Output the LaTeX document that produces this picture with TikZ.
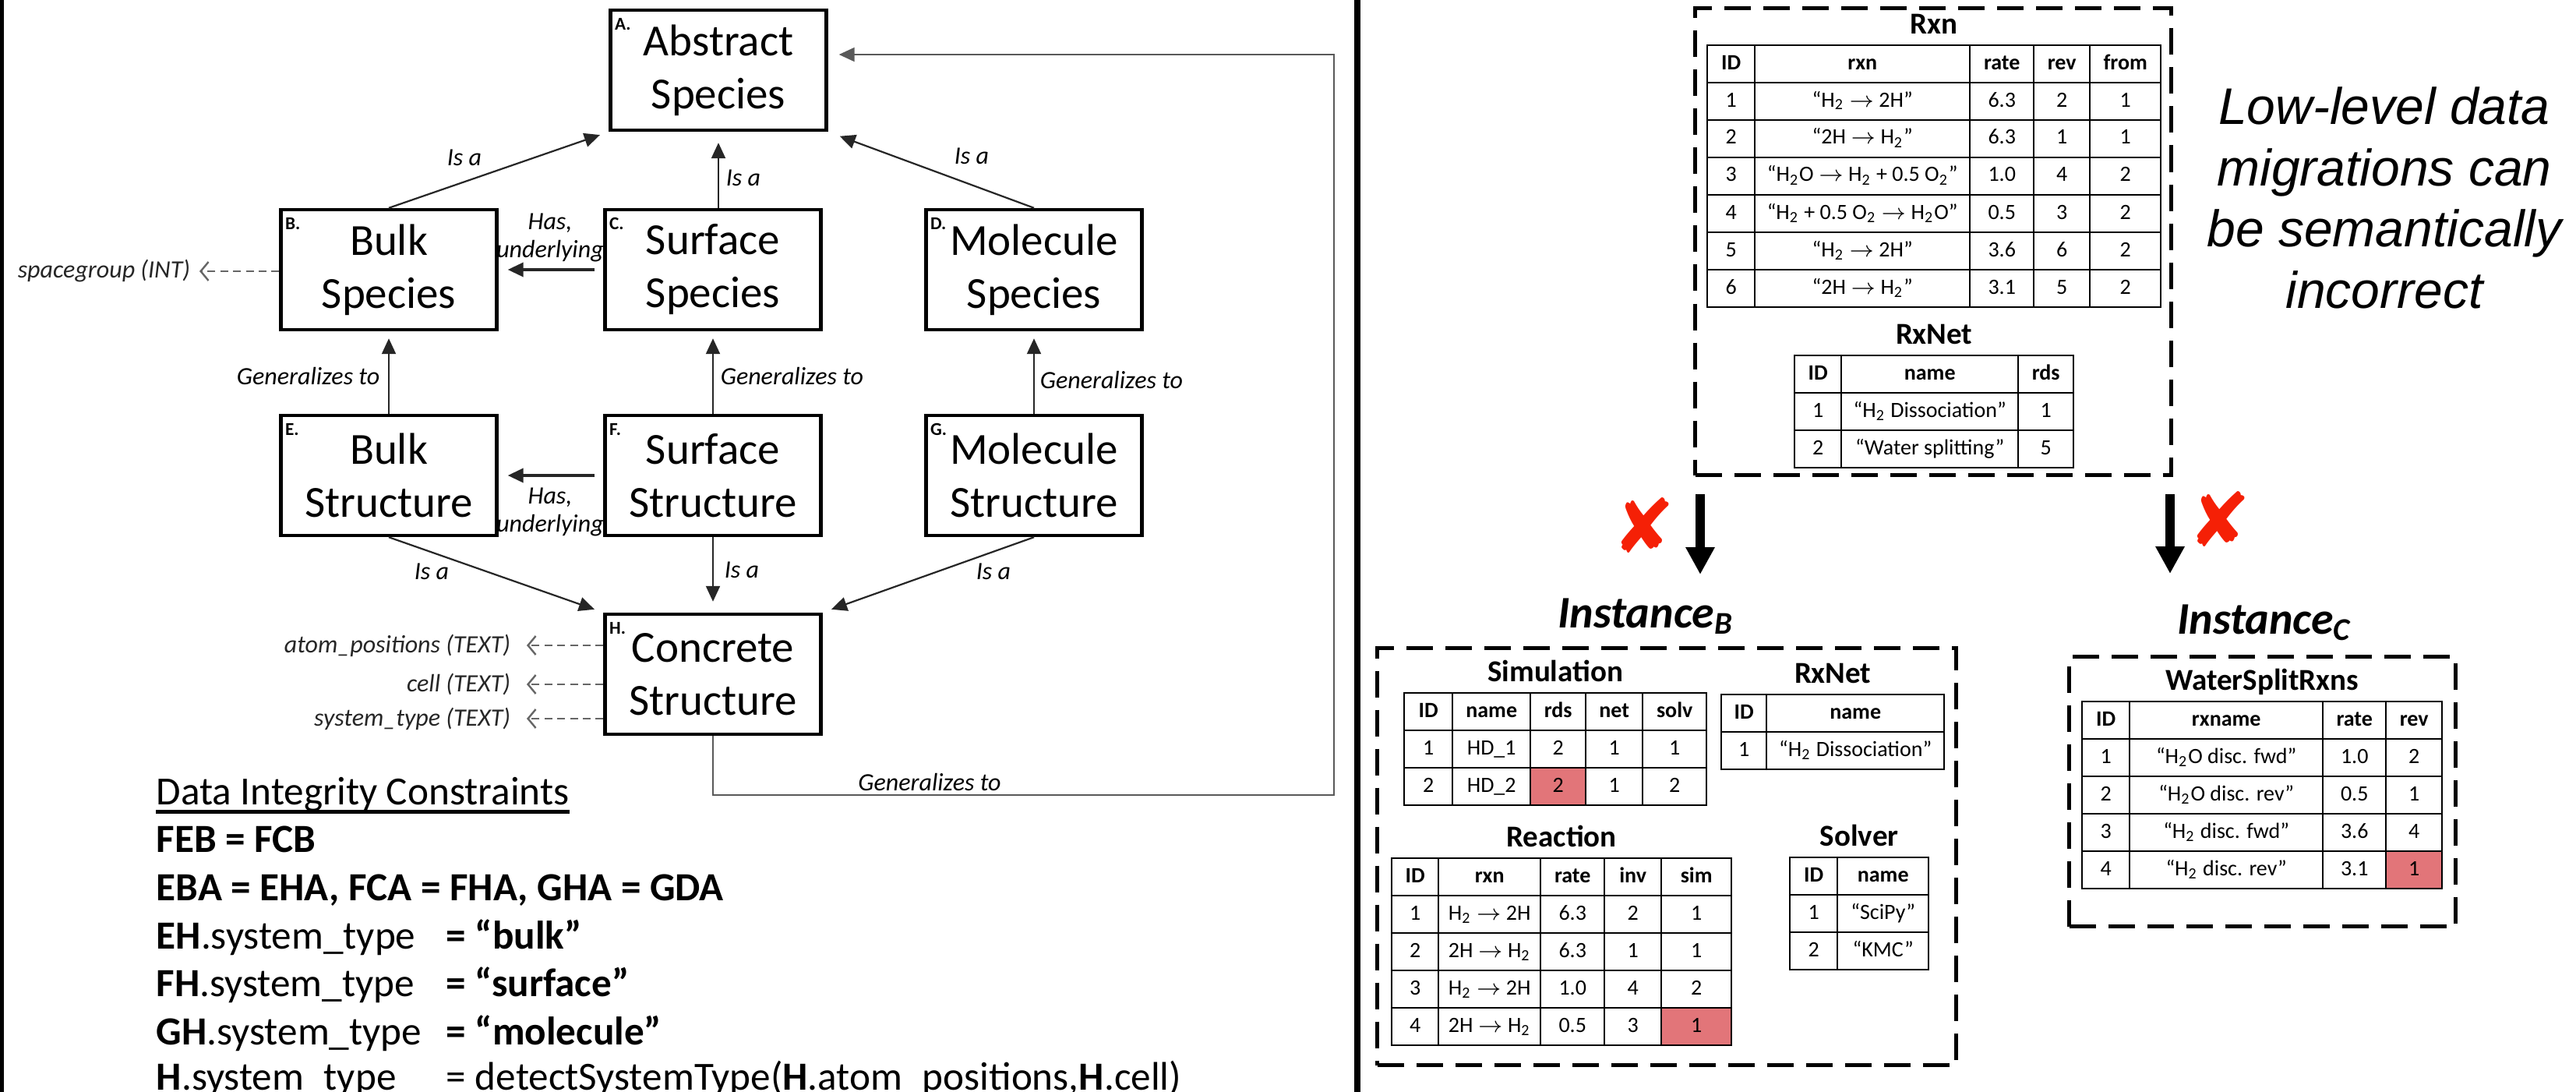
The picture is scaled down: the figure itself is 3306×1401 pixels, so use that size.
\documentclass[tikz,border=0pt]{standalone}
\usepackage{fontspec}
\setmainfont{Carlito}
\newfontfamily\lowfont{Liberation Sans}
\newfontfamily\symfont{DejaVu Sans}
\usetikzlibrary{arrows.meta,positioning,matrix}
\newcommand{\Htwo}{H\textsubscript{2}}
\newcommand{\Otwo}{O\textsubscript{2}}
\newcommand{\rarr}{\ensuremath{\rightarrow}}
\newcommand{\tbfont}{\fontsize{7}{8.4}\selectfont}
\newcommand{\dicfont}{\fontsize{12.8}{15.4}\selectfont}
\definecolor{bad}{RGB}{226,117,121}
\definecolor{xred}{RGB}{245,32,6}
\tikzset{
  ent/.style={draw,line width=1.1pt,minimum width=69.25pt,minimum height=38.5pt,
              align=center,inner sep=0pt,font=\fontsize{14.25}{17}\selectfont},
  tag/.style={font=\fontsize{5.8}{6}\selectfont\bfseries,inner sep=0pt,anchor=north west},
  lbl/.style={font=\fontsize{8}{9}\selectfont\itshape,align=center,inner sep=0pt},
  isa/.style={-{Triangle[length=5pt,width=4.5pt]},line width=0.55pt,black!85},
  has/.style={isa,line width=0.9pt,shorten <=2.75pt,shorten >=3pt},
  gen/.style={isa,black!65,line width=0.5pt},
  attr/.style={-{Straight Barb[length=2.5pt,width=6pt]},dash pattern=on 2.5pt off 1.6pt,
               line width=0.6pt,black!60},
  attrtxt/.style={lbl,black!85},
  rule/.style={anchor=base west,inner sep=0pt,font=\dicfont},
}
\tikzset{
  cw/.style 2 args={column #1/.style={nodes={minimum width=#2}}},
  tbl/.style={matrix of nodes,anchor=north west,inner sep=0pt,outer sep=0pt,
              column sep=-0.6pt,row sep=-0.6pt,
              nodes={draw,line width=0.6pt,minimum height=12pt,inner sep=0pt,outer sep=0pt,
                     anchor=center,font=\tbfont,text height=5pt,text depth=1.6pt},
              row 1/.style={nodes={font=\tbfont\bfseries}}},
  ttl/.style={font=\fontsize{9.75}{11}\selectfont\bfseries,inner sep=0pt,text depth=0pt},
  grp/.style={draw,line width=1.25pt,dash pattern=on 8.5pt off 4pt,inner sep=0pt,
              anchor=north west},
  inst/.style={font=\fontsize{14.5}{16}\selectfont\bfseries\itshape,inner sep=0pt,anchor=base},
  mig/.style={-{Triangle[length=8.75pt,width=8.8pt]},line width=3pt,shorten <=5.5pt},
  nogo/.style={font=\symfont\fontsize{24}{24}\selectfont,text=xred,inner sep=0pt},
}

\begin{document}
\begin{tikzpicture}[x=0.25pt, y=-0.25pt]
\useasboundingbox (0,0) rectangle (3306,1401);
\fill[white] (0,0) rectangle (3306,1401);
\draw[line width=1.25pt] (2.5,0) -- (2.5,1401);
\draw[line width=2pt] (1742,0) -- (1742,1401);

% schema
\node[ent] (A) at (922,90) {Abstract\\Species};
\node[ent] (B) at (499,346) {Bulk\\Species};
\node[ent] (C) at (915,346) {Surface\\Species};
\node[ent] (D) at (1327,346) {Molecule\\Species};
\node[ent] (E) at (499,610) {Bulk\\Structure};
\node[ent] (F) at (915,610) {Surface\\Structure};
\node[ent] (G) at (1327,610) {Molecule\\Structure};
\node[ent] (H) at (915,865) {Concrete\\Structure};
\node[tag] (tA) at ([xshift=1.75pt,yshift=-3pt]A.north west) {A.};
\node[tag] (tB) at ([xshift=1.75pt,yshift=-3pt]B.north west) {B.};
\node[tag] (tC) at ([xshift=1.75pt,yshift=-3pt]C.north west) {C.};
\node[tag] (tD) at ([xshift=1.75pt,yshift=-3pt]D.north west) {D.};
\node[tag] (tE) at ([xshift=1.75pt,yshift=-3pt]E.north west) {E.};
\node[tag] (tF) at ([xshift=1.75pt,yshift=-3pt]F.north west) {F.};
\node[tag] (tG) at ([xshift=1.75pt,yshift=-3pt]G.north west) {G.};
\node[tag] (tH) at ([xshift=1.75pt,yshift=-3pt]H.north west) {H.};

\node[lbl] (lBA) at (596,202) {Is a};
\node[lbl, anchor=west] (lCA) at (931,228) {Is a};
\node[lbl] (lDA) at (1247,200) {Is a};
\node[lbl] (lCB) at (706,305) {Has,\\underlying};
\node[lbl, anchor=east] (lEB) at (488,483) {Generalizes to};
\node[lbl, anchor=west] (lFC) at (924,483) {Generalizes to};
\node[lbl, anchor=west] (lGD) at (1334,488) {Generalizes to};
\node[lbl] (lFE) at (706,657) {Has,\\underlying};
\node[lbl] (lEH) at (554,733) {Is a};
\node[lbl, anchor=west] (lFH) at (929,731) {Is a};
\node[lbl] (lGH) at (1275,733) {Is a};
\node[lbl] (lHA) at (1193,1003) {Generalizes to};

\node[attrtxt, anchor=east] (sg) at (245,348) {spacegroup (INT)};
\node[attrtxt, anchor=east] (apos) at (656,828) {atom\_positions (TEXT)};
\node[attrtxt, anchor=east] (cell) at (656,878) {cell (TEXT)};
\node[attrtxt, anchor=east] (stype) at (656,922) {system\_type (TEXT)};

\draw[isa, shorten >=3pt] (B.north) -- (A.south west);
\draw[isa, shorten >=3.5pt] (A.south |- C.north) -- (A.south);
\draw[isa, shorten >=4pt] (D.north) -- (A.south east);
\draw[has] (C.west) -- (B.east);
\draw[has] (F.west) -- (E.east);
\draw[isa, shorten >=2.25pt] (E.north) -- (B.south);
\draw[isa, shorten >=2.25pt] (F.north) -- (C.south);
\draw[isa, shorten >=2.25pt] (G.north) -- (D.south);
\draw[isa, shorten >=3pt] (E.south) -- (H.north west);
\draw[isa, shorten >=3.5pt] (F.south) -- (H.north);
\draw[isa, shorten >=3pt] (G.south) -- (H.north east);
\coordinate (loopc) at (1712,1020);
\draw[gen, shorten >=3.5pt] (H.south) |- (loopc) |- ([yshift=5pt]A.east);
\draw[attr, shorten >=2.75pt] (sg -| B.west) -- (sg);
\draw[attr, shorten >=5pt] (apos -| H.west) -- (apos);
\draw[attr, shorten >=5pt] (cell -| H.west) -- (cell);
\draw[attr, shorten >=5pt] (stype -| H.west) -- (stype);

% constraints
\node[rule] (dic) at (200,1032) {Data Integrity Constraints};
\draw[line width=1.4pt] ([yshift=-2.4pt]dic.base west) -- ([yshift=-2.4pt]dic.base east);
\node[rule] (r1) at (200,1093) {\textbf{FEB = FCB}};
\node[rule] (r2) at (200,1155) {\textbf{EBA = EHA, FCA = FHA, GHA = GDA}};
\node[rule] (r3) at (200,1217) {\makebox[93pt][l]{\textbf{EH}.system\_type}\textbf{= “bulk”}};
\node[rule] (r4) at (200,1278) {\makebox[93pt][l]{\textbf{FH}.system\_type}\textbf{= “surface”}};
\node[rule] (r5) at (200,1340) {\makebox[93pt][l]{\textbf{GH}.system\_type}\textbf{= “molecule”}};
\node[rule] (r6) at (200,1398) {\makebox[93pt][l]{\textbf{H}.system\_type}= detectSystemType(\textbf{H}.atom\_positions,\textbf{H}.cell)};

% source instance
\node[grp, minimum width=152.75pt, minimum height=149.75pt] (srcdb) at (2173,8) {};
\matrix[tbl, cw={1}{15.25pt}, cw={2}{69pt}, cw={3}{20.5pt}, cw={4}{18pt}, cw={5}{22.75pt}]
  (rxn) at (2190,57) {
ID & rxn & rate & rev & from \\
1 & “\Htwo{} \rarr{} 2H” & 6.3 & 2 & 1 \\
2 & “2H \rarr{} \Htwo{}” & 6.3 & 1 & 1 \\
3 & “\Htwo{}O \rarr{} \Htwo{} + 0.5 \Otwo{}” & 1.0 & 4 & 2 \\
4 & “\Htwo{} + 0.5 \Otwo{} \rarr{} \Htwo{}O” & 0.5 & 3 & 2 \\
5 & “\Htwo{} \rarr{} 2H” & 3.6 & 6 & 2 \\
6 & “2H \rarr{} \Htwo{}” & 3.1 & 5 & 2 \\
};
\matrix[tbl, cw={1}{15pt}, cw={2}{56.75pt}, cw={3}{17.75pt}] (rxnet) at (2302,455) {
ID & name & rds \\
1 & “\Htwo{} Dissociation” & 1 \\
2 & “Water splitting” & 5 \\
};
\node[ttl, above=3.2pt of rxn] (rxnttl) {Rxn};
\node[ttl, above=3.2pt of rxnet] (rxnetttl) {RxNet};

\node[anchor=north, align=center, inner sep=0pt,
      font=\lowfont\itshape\fontsize{16.5}{19.65}\selectfont] (note) at (3060,111)
  {Low-level data\\migrations can\\be semantically\\incorrect};

% migrations
\coordinate (tipB) at (2182,737);
\coordinate (tipC) at (2785,736);
\draw[mig] (srcdb.south -| tipB) -- (tipB);
\draw[mig] (srcdb.south -| tipC) -- (tipC);
\node[nogo] (xB) at (2110,674) {✘};
\node[nogo] (xC) at (2849,666) {✘};

% instance B
\node[inst] (instBttl) at (2112,805) {Instance\textsubscript{B}};
\node[grp, minimum width=185.75pt, minimum height=133.75pt] (instB) at (1765,829) {};
\matrix[tbl, cw={1}{15.5pt}, cw={2}{25pt}, cw={3}{17.75pt}, cw={4}{18.25pt}, cw={5}{20.5pt}]
  (sim) at (1801,888) {
ID & name & rds & net & solv \\
1 & HD\_1 & 2 & 1 & 1 \\
2 & HD\_2 & |[fill=bad]| 2 & 1 & 2 \\
};
\matrix[tbl, cw={1}{14.5pt}, cw={2}{57pt}] (rxnetb) at (2208,890) {
ID & name \\
1 & “\Htwo{} Dissociation” \\
};
\matrix[tbl, cw={1}{15pt}, cw={2}{32.75pt}, cw={3}{20.5pt}, cw={4}{18.25pt}, cw={5}{22.5pt}]
  (reac) at (1785,1100) {
ID & rxn & rate & inv & sim \\
1 & \Htwo{} \rarr{} 2H & 6.3 & 2 & 1 \\
2 & 2H \rarr{} \Htwo{} & 6.3 & 1 & 1 \\
3 & \Htwo{} \rarr{} 2H & 1.0 & 4 & 2 \\
4 & 2H \rarr{} \Htwo{} & 0.5 & 3 & |[fill=bad]| 1 \\
};
\matrix[tbl, cw={1}{15.25pt}, cw={2}{29.25pt}] (solver) at (2296,1099) {
ID & name \\
1 & “SciPy” \\
2 & “KMC” \\
};
\node[ttl, above=3.2pt of sim] (simttl) {Simulation};
\node[ttl, above=3.2pt of rxnetb] (rxnetbttl) {RxNet};
\node[ttl, above=3.2pt of reac] (reacttl) {Reaction};
\node[ttl, above=3.2pt of solver] (solverttl) {Solver};

% instance C
\node[inst] (instCttl) at (2906,813) {Instance\textsubscript{C}};
\node[grp, minimum width=124pt, minimum height=86.5pt] (instC) at (2653,840) {};
\matrix[tbl, cw={1}{15.25pt}, cw={2}{62pt}, cw={3}{20.25pt}, cw={4}{18pt}] (wsr) at (2671,899) {
ID & rxname & rate & rev \\
1 & “\Htwo{}O disc. fwd" & 1.0 & 2 \\
2 & “\Htwo{}O disc. rev" & 0.5 & 1 \\
3 & “\Htwo{} disc. fwd" & 3.6 & 4 \\
4 & “\Htwo{} disc. rev" & 3.1 & |[fill=bad]| 1 \\
};
\node[ttl, above=3.2pt of wsr] (wsrttl) {WaterSplitRxns};
\end{tikzpicture}
\end{document}
